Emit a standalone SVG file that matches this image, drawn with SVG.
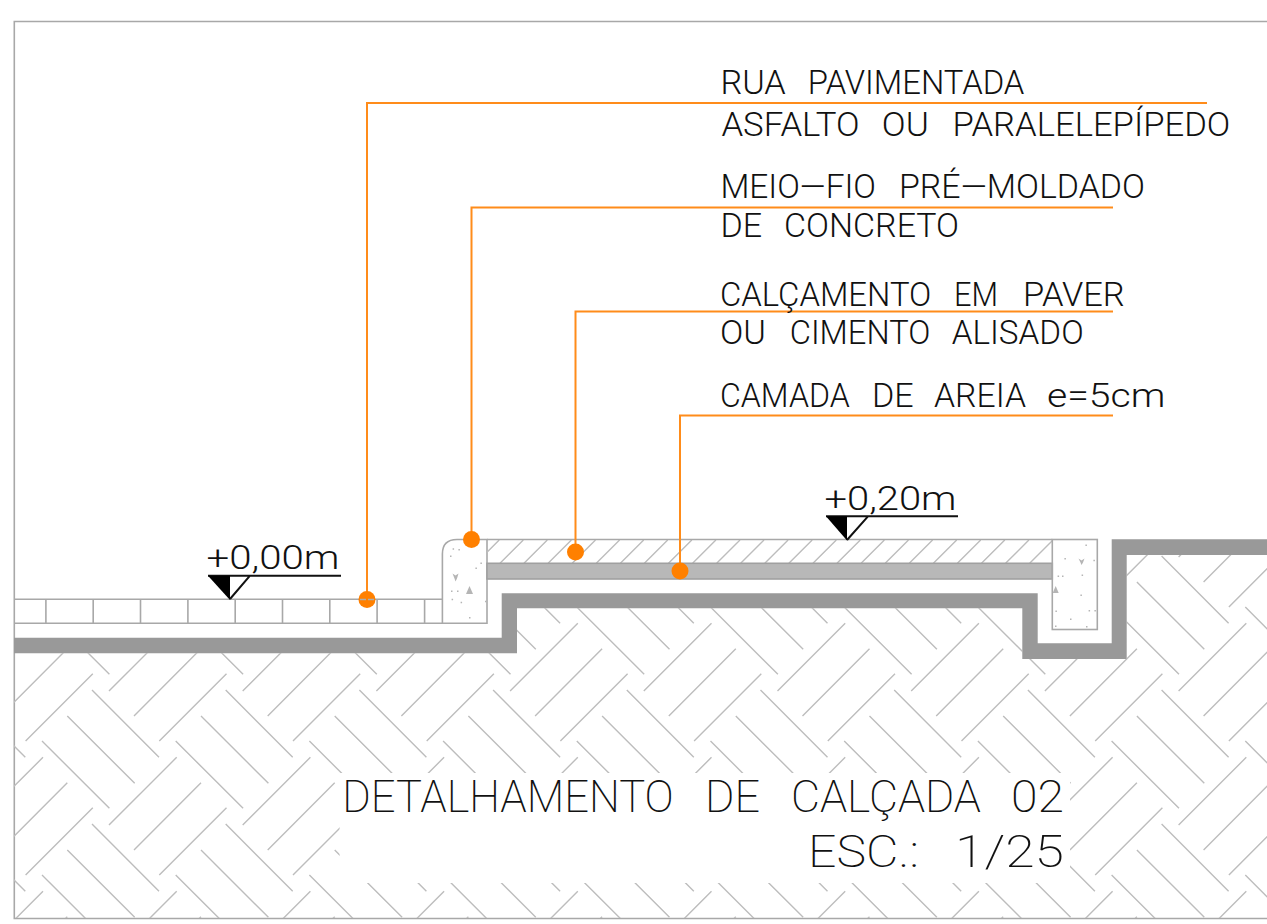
<svg xmlns="http://www.w3.org/2000/svg" width="1267" height="924" viewBox="0 0 1267 924">
<style>
.h{stroke:#bdbdbd;stroke-width:1.4;fill:none}
.o{stroke:#a8a8a8;stroke-width:1.6;fill:none}
.s{fill:#b5b5b5}
.l{stroke:#ff8c1a;stroke-width:2;fill:none}
.d{fill:#ff8000}
text{font-family:"Roboto","Liberation Sans",sans-serif;font-weight:300;fill:#111}
.t1{font-size:33.500px}
.t2{font-size:45px;font-weight:200}
.m{stroke:#111;stroke-width:2;fill:none}
</style>
<defs>
<g id="tile" class="h">
<path d="M109 825L176.700 757.300M134 850L201 782.700M159.300 875L226.500 807.700M92 690L159 757.300M67.300 716L134.700 783.300M42 741L109.400 808.300"/>
</g>
<g id="row">
<use href="#tile" x="-267.400"/><use href="#tile" x="-133.700"/><use href="#tile" x="0"/><use href="#tile" x="133.700"/><use href="#tile" x="267.400"/><use href="#tile" x="401.100"/><use href="#tile" x="534.800"/><use href="#tile" x="668.500"/><use href="#tile" x="802.200"/><use href="#tile" x="935.900"/><use href="#tile" x="1069.600"/><use href="#tile" x="1203.300"/>
</g>
<clipPath id="ground"><path clip-rule="evenodd" d="M14 653.300H517V608.300H1022.300V659H1126.700V555H1267V918H14ZM339.600 773H1070V883H339.600Z"/></clipPath>
<clipPath id="strip"><rect x="487" y="540" width="565.300" height="23.300"/></clipPath>
</defs>
<rect width="1267" height="924" fill="#fff"/>
<path id="frame" class="o" d="M1267 21.500H14.300V918.500H1267"/>
<g id="soil-hatch" clip-path="url(#ground)">
<use href="#row" y="-268"/><use href="#row" y="-134"/><use href="#row" y="0"/><use href="#row" y="134"/>
</g>
<polygon id="soil-band" fill="#999" points="14,637.700 501.700,637.700 501.700,593.300 1037.700,593.300 1037.700,643.300 1111.700,643.300 1111.700,539.300 1267,539.300 1267,555 1126.700,555 1126.700,659 1022.300,659 1022.300,608.300 517,608.300 517,653.300 14,653.300"/>
<g id="paver-street">
<path class="o" d="M14 599.300H442.400M14 623.300H442.400M45.900 599.300V623.300M93.200 599.300V623.300M140.500 599.300V623.300M187.900 599.300V623.300M235.200 599.300V623.300M282.500 599.300V623.300M329.800 599.300V623.300M377.100 599.300V623.300M424.600 599.300V623.300"/>
</g>
<g id="curb-left">
<path class="o" d="M487 539.500H457Q442.400 539.500 442.400 554V623.300H487Z" fill="#fff"/>
<path class="s" d="M452.600 548.300h1.500v1.500h-1.500zM458.400 549h1.500v1.500h-1.500zM450 555.500h1.500v1.500h-1.500zM480.400 562.400h1.500v1.500h-1.500zM475.400 567.400h1.500v1.500h-1.500zM451 590.400h1.500v1.500h-1.500zM457 590.400h1.500v1.500h-1.500zM451.600 598.700h1.500v1.500h-1.500zM460.600 601.700h1.500v1.500h-1.500zM469 617h1.500v1.500h-1.500zM485 600.700h1.500v1.500h-1.500zM469.500 586l3.500 8h-7zM452.500 573.500l3 2 3-2-1.500 5-1.500 3-1-3z"/>
</g>
<g id="pavement">
<g clip-path="url(#strip)"><path class="h" d="M475.900 563.300l23.300-23.300M500 563.300l23.300-23.300M524 563.300l23.300-23.300M548.100 563.300l23.300-23.300M572.200 563.300l23.300-23.300M596.300 563.300l23.300-23.300M620.400 563.300l23.300-23.300M644.400 563.300l23.300-23.300M668.500 563.300l23.300-23.300M692.600 563.300l23.300-23.300M716.700 563.300l23.300-23.300M740.700 563.300l23.300-23.300M764.800 563.300l23.300-23.300M788.900 563.300l23.300-23.300M813 563.300l23.300-23.300M837 563.300l23.300-23.300M861.100 563.300l23.300-23.300M885.200 563.300l23.300-23.300M909.300 563.300l23.300-23.300M933.400 563.300l23.300-23.300M957.400 563.300l23.300-23.300M981.500 563.300l23.300-23.300M1005.600 563.300l23.300-23.300M1029.700 563.300l23.300-23.300"/></g>
<path class="o" d="M487 539.500H1052.300"/>
</g>
<rect id="sand" x="487" y="563.300" width="565.300" height="15.700" fill="#b8b8b8" stroke="#a0a0a0" stroke-width="1.600"/>
<g id="curb-right">
<rect class="o" x="1052.300" y="539.500" width="45" height="90" fill="#fff"/>
<path class="s" d="M1064.400 558h1.500v1.500h-1.500zM1093.400 559.700h1.500v1.500h-1.500zM1085.400 544.600h1.500v1.500h-1.500zM1057.600 575.600h1.500v1.500h-1.500zM1062 575.600h1.500v1.500h-1.500zM1081.600 574.600h1.500v1.500h-1.500zM1080.400 594.600h1.500v1.500h-1.500zM1055.400 610.600h1.500v1.500h-1.500zM1070 618.600h1.500v1.500h-1.500zM1088.600 610h1.500v1.500h-1.500zM1094.400 610h1.500v1.500h-1.500zM1055 625.600h1.500v1.500h-1.500zM1086 626h1.500v1.500h-1.500zM1055.700 586l3 7h-6zM1078.500 558.500l3 2 3-2-1.500 4-1.500 2.500-1-2.500z"/>
</g>
<g id="connectors">
<path class="l" d="M367 599V103H1207"/>
<path class="l" d="M471.500 539V207.500H1113"/>
<path class="l" d="M575.500 551V311.500H1113"/>
<path class="l" d="M680 571V415.500H1113"/>
<circle class="d" cx="367" cy="599.500" r="8.500"/>
<circle class="d" cx="471.500" cy="539.500" r="8.500"/>
<circle class="d" cx="575.500" cy="552" r="8.500"/>
<circle class="d" cx="680" cy="571" r="8.500"/>
<path d="M360 599.500H374" stroke="#adadad" stroke-width="1.500" stroke-dasharray="6 2" fill="none"/>
</g>
<g id="level-000">
<path class="m" d="M208 575.700H341M230 599L250 575.700"/>
<path d="M208 575.700H230V600Z" fill="#000"/>
<text class="t1" x="206.500" y="568.500" textLength="133" lengthAdjust="spacingAndGlyphs">+0,00m</text>
</g>
<g id="level-020">
<path class="m" d="M826 516.300H958M847 540L868 516.300"/>
<path d="M826 516.300H847V540.500Z" fill="#000"/>
<text class="t1" x="824.500" y="509.500" textLength="132" lengthAdjust="spacingAndGlyphs">+0,20m</text>
</g>
<g id="label-rua">
<text class="t1" y="94"><tspan x="720.400" textLength="65.400" lengthAdjust="spacingAndGlyphs">RUA</tspan> <tspan x="807.700" textLength="216.700" lengthAdjust="spacingAndGlyphs">PAVIMENTADA</tspan></text>
<text class="t1" y="136"><tspan x="721.400" textLength="138.200" lengthAdjust="spacingAndGlyphs">ASFALTO</tspan> <tspan x="881.800" textLength="47" lengthAdjust="spacingAndGlyphs">OU</tspan> <tspan x="952.500" textLength="277.800" lengthAdjust="spacingAndGlyphs">PARALELEPÍPEDO</tspan></text>
</g>
<g id="label-meio-fio">
<text class="t1" y="198"><tspan x="720.400" textLength="155.600" lengthAdjust="spacingAndGlyphs">MEIO—FIO</tspan> <tspan x="899" textLength="246" lengthAdjust="spacingAndGlyphs">PRÉ—MOLDADO</tspan></text>
<text class="t1" y="236.700"><tspan x="720.400" textLength="41.600" lengthAdjust="spacingAndGlyphs">DE</tspan> <tspan x="784" textLength="175" lengthAdjust="spacingAndGlyphs">CONCRETO</tspan></text>
</g>
<g id="label-calcamento">
<text class="t1" y="306"><tspan x="720" textLength="211.300" lengthAdjust="spacingAndGlyphs">CALÇAMENTO</tspan> <tspan x="954" textLength="44" lengthAdjust="spacingAndGlyphs">EM</tspan> <tspan x="1023" textLength="101.700" lengthAdjust="spacingAndGlyphs">PAVER</tspan></text>
<text class="t1" y="344"><tspan x="720" textLength="46" lengthAdjust="spacingAndGlyphs">OU</tspan> <tspan x="789.700" textLength="140.600" lengthAdjust="spacingAndGlyphs">CIMENTO</tspan> <tspan x="951.700" textLength="132" lengthAdjust="spacingAndGlyphs">ALISADO</tspan></text>
</g>
<g id="label-areia">
<text class="t1" y="407"><tspan x="720" textLength="129.700" lengthAdjust="spacingAndGlyphs">CAMADA</tspan> <tspan x="872" textLength="41.700" lengthAdjust="spacingAndGlyphs">DE</tspan> <tspan x="934" textLength="92" lengthAdjust="spacingAndGlyphs">AREIA</tspan> <tspan x="1047" textLength="118.300" lengthAdjust="spacingAndGlyphs">e=5cm</tspan></text>
</g>
<g id="title">
<text class="t2" y="812"><tspan x="342.300" textLength="331.400" lengthAdjust="spacingAndGlyphs">DETALHAMENTO</tspan> <tspan x="705" textLength="55" lengthAdjust="spacingAndGlyphs">DE</tspan> <tspan x="791" textLength="190" lengthAdjust="spacingAndGlyphs">CALÇADA</tspan> <tspan x="1011" textLength="53" lengthAdjust="spacingAndGlyphs">02</tspan></text>
<text class="t2" y="867.300"><tspan x="808" textLength="111" lengthAdjust="spacingAndGlyphs">ESC.:</tspan> <tspan x="955" textLength="109" lengthAdjust="spacingAndGlyphs">1/25</tspan></text>
</g>
</svg>
